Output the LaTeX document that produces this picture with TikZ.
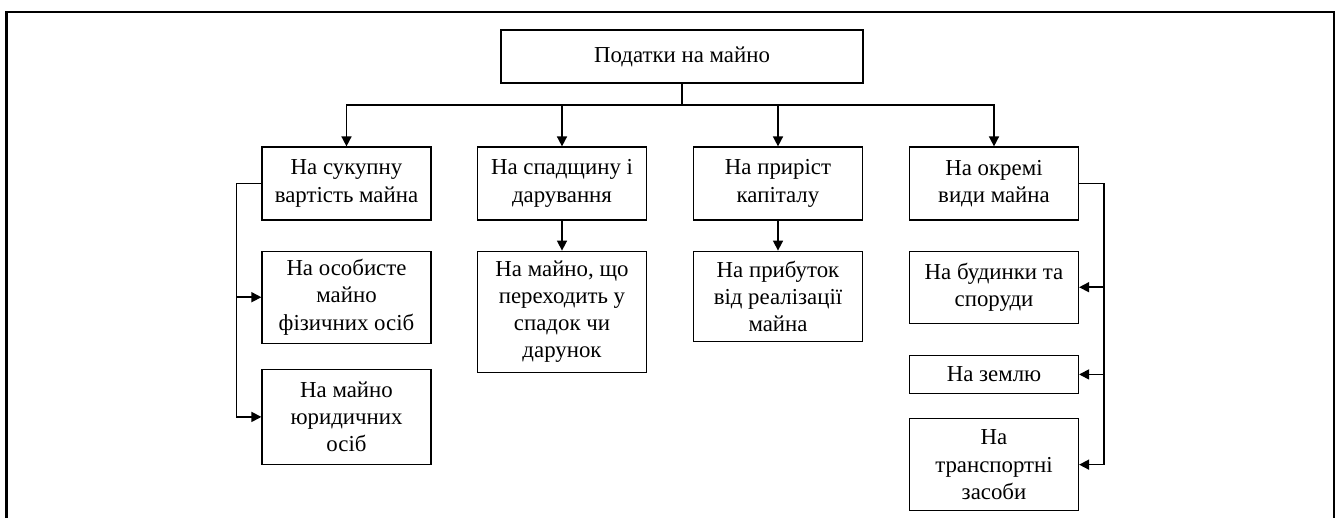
\documentclass[tikz,border=0pt]{standalone}
\usepackage{fontspec}
\setmainfont{Liberation Serif}
\usetikzlibrary{
    positioning,
    arrows.meta
}

\begin{document}
\begin{tikzpicture}[
                x=0.02cm, y=-0.02cm,
                every node/.style={align=center},
                blok/.style={
                    draw,
                    line width=0.7pt,
                    minimum width=3.38cm,
                    inner sep=2pt,
                    font=\fontsize{13}{15.5}\selectfont
                },
                strilka/.style={-{Triangle[length=2mm,width=2mm]}, line width=0.9pt}
            ]

                \useasboundingbox (0,0) rectangle (1338,518);
                \draw[line width=1.6pt] (6.5,518) -- (6.5,12) -- (1334,12) -- (1334,518);


                \node[blok, minimum width=7.24cm, minimum height=1.06cm]
                    (podatky) at (682,56.5) {Податки на майно};


                \node[blok, minimum height=1.46cm] (sukupnu) at (346.5,183.5)
                    {На сукупну\\вартість майна};

                \node[blok, minimum height=1.46cm] (spadshchyna) at (562,183.5)
                    {На спадщину і\\дарування};

                \node[blok, minimum height=1.46cm] (pryrist) at (778,183.5)
                    {На приріст\\капіталу};

                \node[blok, minimum height=1.46cm] (okremi) at (994,183.5)
                    {На окремі\\види майна};


                \node[blok, below=0.6cm of sukupnu, minimum height=1.84cm] (osobyste)
                    {На особисте\\майно\\фізичних осіб};

                \node[blok, below=0.5cm of osobyste, minimum height=1.9cm] (yurydychni)
                    {На майно\\юридичних\\осіб};

                \node[blok, below=0.6cm of spadshchyna, minimum height=2.42cm] (spadok)
                    {На майно, що\\переходить у\\спадок чи\\дарунок};

                \node[blok, below=0.6cm of pryrist, minimum height=1.8cm] (prybutok)
                    {На прибуток\\від реалізації\\майна};

                \node[blok, below=0.6cm of okremi, minimum height=1.44cm] (budynky)
                    {На будинки та\\споруди};

                \node[blok, below=0.62cm of budynky, minimum height=0.76cm] (zemlia)
                    {На землю};

                \node[blok, below=0.48cm of zemlia, minimum height=1.84cm] (transport)
                    {На\\транспортні\\засоби};


                \coordinate (shyna) at (682,105);

                \draw[line width=0.9pt] (podatky.south) -- (shyna);

                \foreach \n in {sukupnu,spadshchyna,pryrist,okremi}
                    \draw[strilka] (shyna) -| (\n.north);

                \draw[strilka] (spadshchyna) -- (spadok);

                \draw[strilka] (pryrist) -- (prybutok);

                \foreach \n in {osobyste,yurydychni}
                    \draw[strilka] (sukupnu.west) -- ++(-25,0) |- (\n.west);

                \foreach \n in {budynky,zemlia,transport}
                    \draw[strilka] (okremi.east) -- ++(25,0) |- (\n.east);

            \end{tikzpicture}
\end{document}
